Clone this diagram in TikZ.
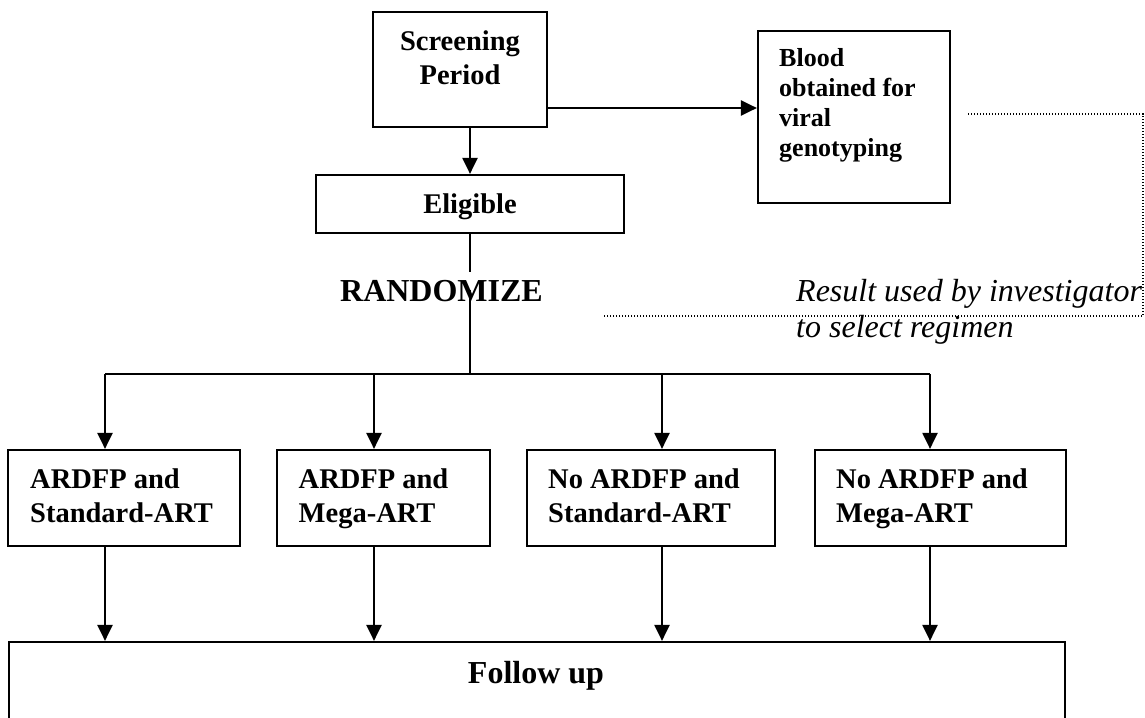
\documentclass[tikz,border=0pt]{standalone}
\usepackage{fontspec}
\setmainfont{Liberation Serif}
\usetikzlibrary{arrows.meta,calc}
\begin{document}
\begin{tikzpicture}[x=1pt,y=-1pt,
  box/.style={draw,line width=2.2pt,inner sep=0pt},
  lbl/.style={inner sep=0pt,font=\bfseries\fontsize{28.5}{34}\selectfont,align=left},
  arr/.style={line width=2.2pt,-{Triangle[length=16pt,width=15pt]}},
  ln/.style={line width=2.2pt},
  thinln/.style={line width=1.6pt},
  dots/.style={line width=1.2pt,dash pattern=on 1.2pt off 1.8pt}]
\useasboundingbox (0,0) rectangle (1145,717);
\clip (0,0) rectangle (1145,717);
% boxes
\node[box,minimum width=174pt,minimum height=115pt] (scr) at (460,69.5) {};
\node[lbl,align=center,anchor=north] (scrt) at (460,30.7) {Screening\\Period};
\node[box,minimum width=192pt,minimum height=172pt] (bld) at (854,117) {};
\node[lbl,font=\bfseries\fontsize{26}{30}\selectfont,anchor=north west] (bldt) at (779,48.5) {Blood\\obtained for\\viral\\genotyping};
\node[box,minimum width=308pt,minimum height=58pt] (elg) at (470,204) {};
\node[lbl,anchor=base] (elgt) at (470,213) {Eligible};
\node[lbl,font=\bfseries\fontsize{32}{36}\selectfont,anchor=base] (rnd) at (441.5,301) {RANDOMIZE};
\node[inner sep=0pt,font=\itshape\fontsize{32}{36}\selectfont,align=left,anchor=north west] (res) at (796,279) {Result used by investigator\\to select regimen};
\node[box,minimum width=232pt,minimum height=96pt] (b1) at (124,498) {};
\node[box,minimum width=213pt,minimum height=96pt] (b2) at (383.5,498) {};
\node[box,minimum width=248pt,minimum height=96pt] (b3) at (651,498) {};
\node[box,minimum width=251pt,minimum height=96pt] (b4) at (940.5,498) {};
\node[lbl,anchor=north west] (b1t) at (30,468.7) {ARDFP and\\Standard-ART};
\node[lbl,anchor=north west] (b2t) at (298.5,468.7) {ARDFP and\\Mega-ART};
\node[lbl,anchor=north west] (b3t) at (548,468.7) {No ARDFP and\\Standard-ART};
\node[lbl,anchor=north west] (b4t) at (836,468.7) {No ARDFP and\\Mega-ART};
\node[box,minimum width=1056pt,minimum height=118pt] (fu) at (537,701) {};
\node[lbl,font=\bfseries\fontsize{32}{36}\selectfont,anchor=base] (fut) at (536,683) {Follow up};
% coordinates
\coordinate (ya) at (0,108);
\coordinate (rz1) at (470,272);
\coordinate (rz2) at (470,290);
\coordinate (br) at (470,374);
\coordinate (x1) at (105,374);
\coordinate (x2) at (374,374);
\coordinate (x3) at (662,374);
\coordinate (x4) at (930,374);
\coordinate (d1) at (968,114);
\coordinate (d2) at (1143,114);
\coordinate (d3) at (1143,316);
\coordinate (d4) at (603,316);
% connectors
\draw[arr] (scr.south -| elg.north) -- (elg.north);
\draw[arr] (scr.east |- ya) -- (bld.west |- ya);
\draw[thinln] (elg.south) -- (rz1);
\draw[thinln] (rz2) -- (br);
\draw[ln] (x1) -- (x4);
\foreach \i in {1,2,3,4}{
  \draw[arr] (x\i) -- (x\i |- b\i.north);
  \draw[arr] (b\i.south -| x\i) -- (fu.north -| x\i);
}
\draw[dots] (d1) -- (d2) -- (d3) -- (d4);
\end{tikzpicture}
\end{document}
